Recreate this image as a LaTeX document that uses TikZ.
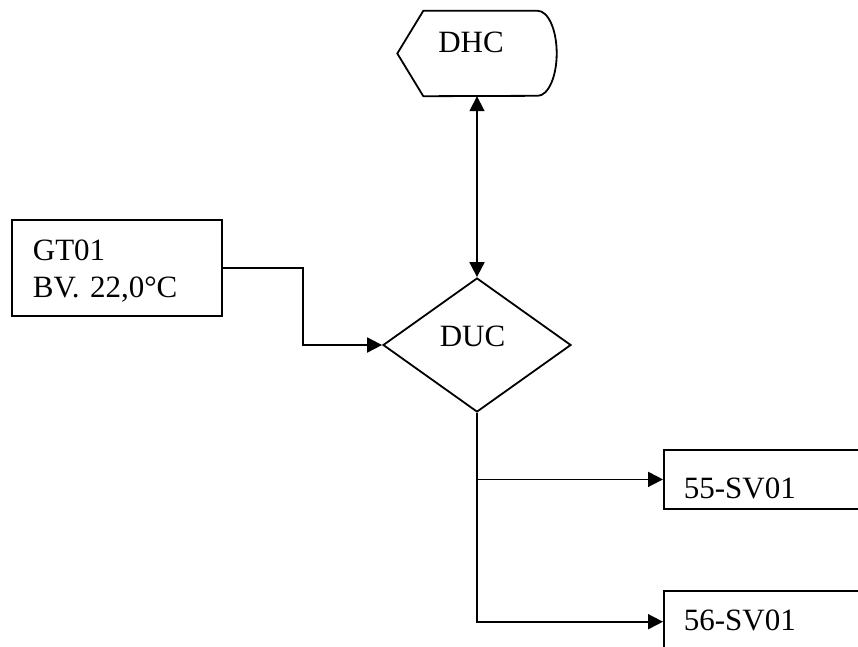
\documentclass[tikz,border=0pt]{standalone}
\usepackage{fontspec}
\setmainfont{Liberation Serif}
\usetikzlibrary{positioning,arrows.meta,shapes.geometric}

\begin{document}
\begin{tikzpicture}[
  x=1pt, y=-1pt,
  every node/.style={font=\fontsize{31}{37}\selectfont},
  box/.style={rectangle, draw, line width=1.8pt, align=left, inner xsep=20pt, inner ysep=0pt, anchor=north west},
  decision/.style={diamond, draw, line width=1.8pt, minimum width=188pt, minimum height=134pt, aspect=1.4, inner sep=0pt},
  display/.style={minimum width=159pt, minimum height=85pt, inner sep=0pt},
  arrow/.style={-{Triangle[length=15pt,width=15pt]}, line width=1.8pt},
  both/.style={{Triangle[length=15pt,width=15pt]}-{Triangle[length=15pt,width=15pt]}, line width=1.8pt}
  ]
  \useasboundingbox (0,0) rectangle (858,646);
  \node[display, label={[xshift=-6pt,yshift=11.5pt]center:DHC}] (dhc) at (477,53.5) {};
  \draw[line width=1.8pt] (dhc.west) -- ([xshift=26pt]dhc.north west) -- ([xshift=-19pt]dhc.north east)
    arc[start angle=90, end angle=-90, x radius=19pt, y radius=42.5pt] -- ([xshift=26pt]dhc.south west) -- cycle;
  \node[decision, label={[xshift=-4.5pt,yshift=9pt]center:DUC}] (duc) at (477,345) {};
  \node[box, text width=168pt, text height=41pt, text depth=55pt, inner xsep=21pt] (gt) at (11,219) {GT01\\BV. 22,0°C};
  \node[box, text width=200pt, text height=49pt, text depth=10pt] (sv55) at (663,449) {55-SV01};
  \node[box, below=80pt of sv55, text width=200pt, text height=40pt, text depth=22pt] (sv56) {56-SV01};
  \draw[both] (dhc.south) -- (duc.north);
  \draw[arrow] (gt.east) -- ++(80,0) |- (duc.west);
  \draw[arrow] (duc.south) |- (sv55.west);
  \draw[arrow] (duc.south) |- (sv56.west);
\end{tikzpicture}
\end{document}
